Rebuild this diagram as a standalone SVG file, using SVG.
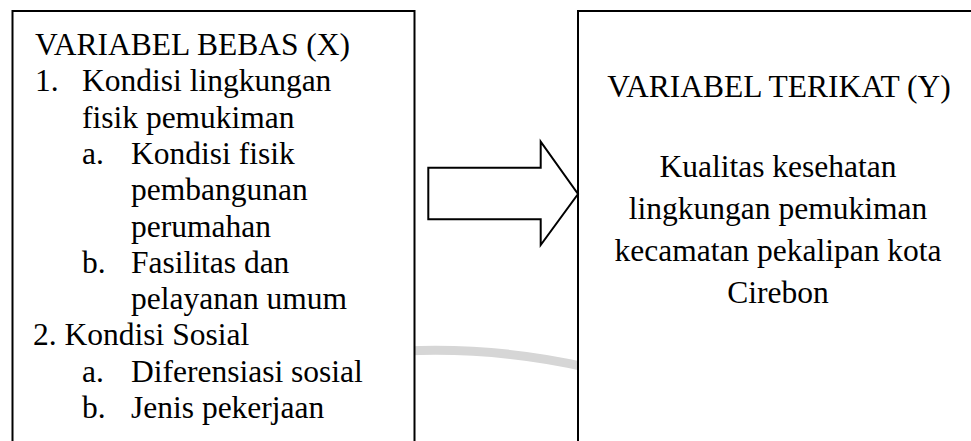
<svg xmlns="http://www.w3.org/2000/svg" width="971" height="441" viewBox="0 0 971 441">
<style>
  .box { fill: #ffffff; stroke: #000000; stroke-width: 2; }
  text { font-family: 'Liberation Serif', 'Times New Roman', serif; font-size: 31.5px; fill: #000000; }
  .c { text-anchor: middle; }
  .arrow { fill: #ffffff; stroke: #000000; stroke-width: 2; stroke-linejoin: miter; }
</style>
<rect x="0" y="0" width="971" height="441" fill="#ffffff"/>
<g id="watermark">
  <path d="M 405 351 Q 500 347 590 368" fill="none" stroke="#d6d6d6" stroke-width="9"/>
</g>
<g id="node-x" font-family="'Liberation Serif', serif">
  <rect class="box" x="12.5" y="11" width="402" height="450"/>
  <text x="35" y="55">VARIABEL BEBAS (X)</text>
  <text x="35" y="91.3">1.</text>
  <text x="82" y="91.3">Kondisi lingkungan</text>
  <text x="82" y="127.6">fisik pemukiman</text>
  <text x="82" y="163.9">a.</text>
  <text x="131" y="163.9">Kondisi fisik</text>
  <text x="131" y="200.2">pembangunan</text>
  <text x="131" y="236.5">perumahan</text>
  <text x="82" y="272.8">b.</text>
  <text x="131" y="272.8">Fasilitas dan</text>
  <text x="131" y="309.1">pelayanan umum</text>
  <text x="33" y="345.4">2. Kondisi Sosial</text>
  <text x="82" y="381.7">a.</text>
  <text x="131" y="381.7">Diferensiasi sosial</text>
  <text x="82" y="418">b.</text>
  <text x="131" y="418">Jenis pekerjaan</text>
</g>
<g id="node-y" font-family="'Liberation Serif', serif">
  <rect class="box" x="578" y="11" width="410" height="450"/>
  <text class="c" x="779" y="97">VARIABEL TERIKAT (Y)</text>
  <text class="c" x="778" y="177">Kualitas kesehatan</text>
  <text class="c" x="778" y="219">lingkungan pemukiman</text>
  <text class="c" x="778" y="261">kecamatan pekalipan kota</text>
  <text class="c" x="778" y="303">Cirebon</text>
</g>
<g id="connectors">
  <polygon class="arrow" points="428.3,167.7 540.7,167.7 540.7,141.7 578,194 540.7,245 540.7,219.3 428.3,219.3"/>
</g>
</svg>
